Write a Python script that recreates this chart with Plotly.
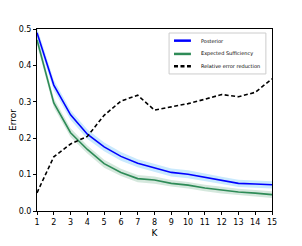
import plotly.graph_objects as go

K = list(range(1, 16))
posterior = [0.490, 0.346, 0.264, 0.211, 0.176, 0.150, 0.131, 0.119, 0.106, 0.101, 0.092, 0.084, 0.076, 0.074, 0.072]
posterior_err = [0.014, 0.014, 0.013, 0.013, 0.012, 0.012, 0.011, 0.011, 0.011, 0.011, 0.010, 0.010, 0.010, 0.010, 0.010]
suff = [0.470, 0.297, 0.215, 0.169, 0.130, 0.106, 0.089, 0.085, 0.076, 0.071, 0.063, 0.057, 0.052, 0.049, 0.045]
suff_err = [0.013, 0.013, 0.012, 0.011, 0.011, 0.010, 0.010, 0.010, 0.009, 0.009, 0.009, 0.009, 0.009, 0.009, 0.009]
rel_red = [0.050, 0.149, 0.184, 0.205, 0.263, 0.302, 0.318, 0.277, 0.286, 0.295, 0.307, 0.320, 0.314, 0.326, 0.363]

series_names = ["Posterior", "Expected Sufficiency", "Relative error reduction"]
series_colors = ["#0000ff", "#2e8b57", "black"]
series_dash = ["solid", "solid", "4px,2.5px"]

FONT = "DejaVu Sans"

fig = go.Figure()

def band(y, e, color):
    up = [a + b for a, b in zip(y, e)]
    lo = [a - b for a, b in zip(y, e)]
    fig.add_trace(go.Scatter(x=K + K[::-1], y=up + lo[::-1], fill="toself",
                             fillcolor=color, line=dict(width=0), mode="lines",
                             showlegend=False, hoverinfo="skip"))

band(posterior, posterior_err, "rgba(135,206,250,0.45)")
band(suff, suff_err, "rgba(46,139,87,0.2)")

for ys, nm, col, dsh in zip([posterior, suff, rel_red], series_names, series_colors, series_dash):
    fig.add_trace(go.Scatter(x=K, y=ys, mode="lines", name=nm, showlegend=False,
                             line=dict(color=col, width=1.6, dash=dsh)))

axis_common = dict(showline=True, linecolor="black", linewidth=1, mirror=True,
                   ticks="outside", ticklen=3, tickcolor="black", showgrid=False,
                   zeroline=False, automargin=False,
                   tickfont=dict(family=FONT, size=8, color="black"))

fig.update_xaxes(range=[1, 15], tickmode="array", tickvals=K,
                 title=dict(text="K", font=dict(family=FONT, size=9, color="black"), standoff=4),
                 **axis_common)
fig.update_yaxes(range=[0, 0.5], tickmode="array", tickvals=[0, 0.1, 0.2, 0.3, 0.4, 0.5],
                 ticktext=["0.0", "0.1", "0.2", "0.3", "0.4", "0.5"],
                 title=dict(text="Error", font=dict(family=FONT, size=9, color="black"), standoff=2),
                 **axis_common)

# Manual legend box (paper coordinates of the plot area)
shapes = [dict(type="rect", xref="paper", yref="paper", x0=0.562, x1=0.974, y0=0.753, y1=0.978,
               line=dict(color="#cccccc", width=1), fillcolor="white", layer="above")]
annotations = []
leg_y = [0.936, 0.863, 0.795]
for yy, nm, col, dsh in zip(leg_y, series_names, series_colors, series_dash):
    shapes.append(dict(type="line", xref="paper", yref="paper", x0=0.583, x1=0.655, y0=yy, y1=yy,
                       line=dict(color=col, width=2.5, dash=dsh), layer="above"))
    annotations.append(dict(xref="paper", yref="paper", x=0.689, y=yy, text=nm, showarrow=False,
                            xanchor="left", yanchor="middle",
                            font=dict(family=FONT, size=5, color="black")))

# page body has an 8px default margin; compensate so the plot area lands where the reference's does
fig.update_layout(
    width=294, height=238,
    margin=dict(l=29, r=30, t=21, b=35),
    plot_bgcolor="white", paper_bgcolor="white",
    showlegend=False,
    shapes=shapes, annotations=annotations,
)

fig.write_html("out.html")
